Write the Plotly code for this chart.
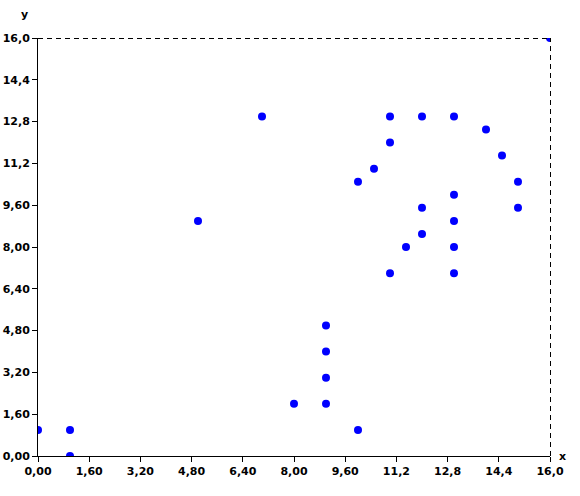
import plotly.graph_objects as go

x_vals = [0, 1, 1, 5, 7, 8, 9, 9, 9, 9, 10, 10, 10.5, 11, 11, 11, 11.5, 12, 12, 12, 13, 13, 13, 13, 13, 14, 14.5, 15, 15, 16]
y_vals = [1, 1, 0, 9, 13, 2, 2, 3, 4, 5, 1, 10.5, 11, 12, 13, 7, 8, 8.5, 9.5, 13, 13, 10, 9, 8, 7, 12.5, 11.5, 10.5, 9.5, 16]

tick_vals = [0, 1.6, 3.2, 4.8, 6.4, 8.0, 9.6, 11.2, 12.8, 14.4, 16.0]
tick_text = ["0,00", "1,60", "3,20", "4,80", "6,40", "8,00", "9,60", "11,2", "12,8", "14,4", "16,0"]

FAMILY = "DejaVu Sans, Verdana, sans-serif"
font = dict(family=FAMILY, size=11, color="black")

fig = go.Figure()
fig.add_trace(go.Scatter(
    x=x_vals, y=y_vals, mode="markers",
    marker=dict(color="#0000ff", size=8, line=dict(width=0)),
    cliponaxis=True, showlegend=False, hoverinfo="skip",
))

axis_common = dict(
    tickmode="array", tickvals=tick_vals, ticktext=tick_text,
    range=[0, 16], showgrid=False, zeroline=False,
    showline=True, linecolor="black", linewidth=1,
    ticks="outside", ticklen=5, tickcolor="black", tickwidth=1,
    tickfont=dict(family=FAMILY, size=11, color="black", weight="bold"),
    fixedrange=True, automargin=False,
)
fig.update_xaxes(**axis_common)
fig.update_yaxes(**axis_common)

# dashed top and right borders (half-pixel offset for crisp rendering)
fig.add_shape(type="line", xref="paper", yref="paper", x0=0, x1=1,
              ysizemode="pixel", yanchor=1, y0=-0.5, y1=-0.5,
              line=dict(color="black", width=1, dash="5px,4px"))
fig.add_shape(type="line", xref="paper", yref="paper", y0=0, y1=1,
              xsizemode="pixel", xanchor=1, x0=0.5, x1=0.5,
              line=dict(color="black", width=1, dash="5px,4px"))

fig.add_annotation(text="<b>x</b>", xref="paper", yref="paper", x=1, y=0,
                   xanchor="left", yanchor="middle", xshift=7, showarrow=False,
                   font=dict(family=FAMILY, size=11, color="black"))
fig.add_annotation(text="<b>y</b>", xref="paper", yref="paper", x=0, y=1,
                   xanchor="center", yanchor="bottom", xshift=-14, yshift=15, showarrow=False,
                   font=dict(family=FAMILY, size=11, color="black"))

fig.update_layout(
    width=580, height=496,
    margin=dict(l=38, r=30, t=38, b=40),
    paper_bgcolor="white", plot_bgcolor="white",
    font=font,
)

fig.write_html("out.html", config={"displayModeBar": False},
               post_script="document.body.style.margin='0';document.body.style.overflow='hidden';")
